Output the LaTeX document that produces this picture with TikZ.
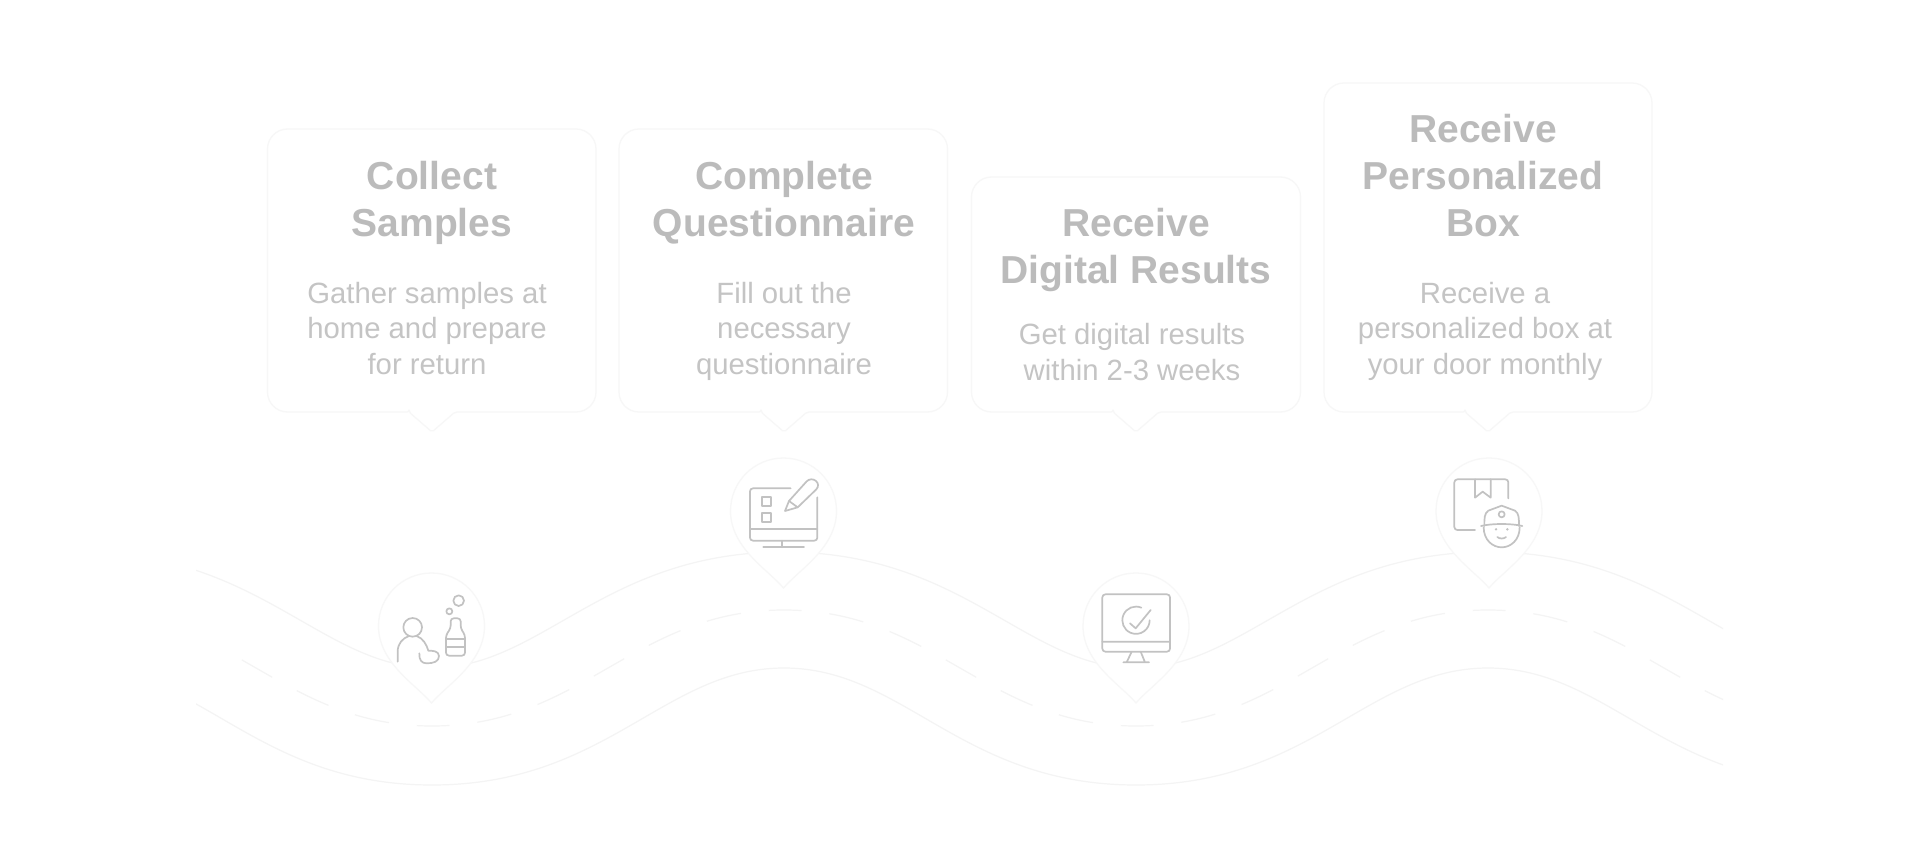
\documentclass[tikz,border=0pt]{standalone}
\usepackage{fontspec}
\setmainfont{Liberation Sans}
\definecolor{titlegray}{HTML}{BBBBBB}
\definecolor{bodygray}{HTML}{C4C4C4}
\definecolor{icongray}{HTML}{C2C2C2}
\definecolor{cardline}{HTML}{F7F7F7}
\definecolor{waveline}{HTML}{F4F4F4}
\tikzset{
  titletext/.style={anchor=base,align=center,text=titlegray,inner sep=0pt,font=\fontsize{39}{47}\selectfont\bfseries},
  bodytext/.style={anchor=base,align=center,text=bodygray,inner sep=0pt,font=\fontsize{29.3}{35.5}\selectfont},
  cardshape/.style={draw=cardline,line width=1.3pt,fill=white,line join=round},
  pinshape/.style={draw=cardline,line width=1.3pt,fill=white},
  waveshape/.style={draw=waveline,line width=1.2pt},
  dashwave/.style={waveshape,dash pattern=on 35pt off 28pt,dash phase=17.5pt},
  iconline/.style={draw=icongray,line width=1.7pt,line cap=round,line join=round},
  zoomat/.style={shift={(#1)},x=0.33333pt,y=-0.33333pt}
}
\newcommand{\carddraw}[4]{% left, right, top, tip x
  \draw[cardshape] (#4-23,412) [rounded corners=20pt] -- (#1,412) -- (#1,#3) -- (#2,#3) -- (#2,412) [rounded corners=2pt] -- (#4+23,412) -- (#4,432) -- (#4-23,412) -- cycle;
}
\newcommand{\pindraw}[2]{% centre x, centre y
  \begin{scope}[shift={(#1,#2)}]
    \draw[pinshape] (0,77) .. controls (-15,59) and (-53,37) .. (-53,0)
      .. controls (-53,-29.3) and (-29.3,-53) .. (0,-53)
      .. controls (29.3,-53) and (53,-29.3) .. (53,0)
      .. controls (53,37) and (15,59) .. (0,77) -- cycle;
  \end{scope}
}
\begin{document}
\begin{tikzpicture}[x=1pt,y=-1pt]
\useasboundingbox (0,0) rectangle (1920,856);
\fill[white] (0,0) rectangle (1920,856);

% waves
\begin{scope}
  \clip (196,500) rectangle (1723,820);
  \draw[waveshape] (80,552) .. controls (260,552) and (322,668) .. (432,668)
    .. controls (542,668) and (604,552) .. (784,552)
    .. controls (964,552) and (1026,668) .. (1136,668)
    .. controls (1246,668) and (1308,552) .. (1488,552)
    .. controls (1668,552) and (1730,668) .. (1840,668);
  \draw[waveshape] (80,668) .. controls (200,668) and (257,785) .. (432,785)
    .. controls (607,785) and (664,668) .. (784,668)
    .. controls (904,668) and (961,785) .. (1136,785)
    .. controls (1311,785) and (1368,668) .. (1488,668)
    .. controls (1608,668) and (1665,785) .. (1840,785);
\end{scope}
\begin{scope}
  \clip (234,500) rectangle (1723,820);
  \draw[dashwave] (80,610) .. controls (230,610) and (282,726) .. (432,726);
  \draw[dashwave] (432,726) .. controls (582,726) and (634,610) .. (784,610);
  \draw[dashwave] (784,610) .. controls (934,610) and (986,726) .. (1136,726);
  \draw[dashwave] (1136,726) .. controls (1286,726) and (1338,610) .. (1488,610);
  \draw[dashwave] (1488,610) .. controls (1638,610) and (1690,726) .. (1840,726);
\end{scope}

% cards
\carddraw{267.5}{596}{129}{432}
\carddraw{619}{947.5}{129}{784}
\carddraw{971.5}{1300.5}{177}{1136}
\carddraw{1324}{1652}{83}{1488}

\node[titletext] (title1) at (432,236) {Collect\\Samples};
\node[bodytext] (body1) at (427,374) {Gather samples at\\home and prepare\\for return};
\node[titletext] (title2) at (784,236) {Complete\\Questionnaire};
\node[bodytext] (body2) at (784,374) {Fill out the\\necessary\\questionnaire};
\node[titletext] (title3) at (1136,283) {Receive\\Digital Results};
\node[bodytext] (body3) at (1132,380) {Get digital results\\within 2-3 weeks};
\node[titletext] (title4) at (1483,236) {Receive\\Personalized\\Box};
\node[bodytext] (body4) at (1485,374) {Receive a\\personalized box at\\your door monthly};

% pins
\pindraw{431.5}{626}
\pindraw{783.5}{511}
\pindraw{1136}{626}
\pindraw{1489}{511}

% icon 1: person and bottle
\begin{scope}[zoomat={360,560}]
  \draw[iconline] (158,202) circle[radius=28];
  \draw[iconline] (113,305) -- (113,275) .. controls (113,250) and (128,235) .. (147,228);
  \draw[iconline] (170,228) .. controls (190,235) and (200,255) .. (205,272)
    .. controls (215,272) and (237,272) .. (237,288)
    .. controls (237,305) and (220,310) .. (200,310)
    .. controls (185,310) and (177,300) .. (178,280);
  \draw[iconline,rounded corners=3pt] (272,175) -- (272,205) -- (258,225) -- (258,287) -- (315,287) -- (315,225) -- (302,205) -- (302,175) -- cycle;
  \draw[iconline] (258,238) -- (315,238) (258,262) -- (315,262);
  \draw[iconline] (268,154) circle[radius=9];
  \draw[iconline] (296,122) circle[radius=16];
\end{scope}

% icon 2: form on a monitor with pencil
\begin{scope}[zoomat={720,450}]
  \draw[iconline,rounded corners=3pt] (212,115) -- (90,115) -- (90,272) -- (292,272) -- (292,142);
  \draw[iconline] (90,238) -- (292,238) (187,272) -- (187,292) (130,292) -- (252,292);
  \draw[iconline] (125,142) rectangle (153,168);
  \draw[iconline] (125,188) rectangle (153,215);
  \draw[iconline] (195,183) -- (207,153) -- (260,94) .. controls (268,86) and (280,86) .. (288,93) .. controls (296,100) and (296,110) .. (289,118) -- (233,172) -- cycle;
  \draw[iconline] (207,153) -- (233,172);
\end{scope}

% icon 3: monitor with check
\begin{scope}[zoomat={1070,565}]
  \draw[iconline,rounded corners=3pt] (97,88) rectangle (300,260);
  \draw[iconline] (97,230) -- (300,230) (185,260) -- (170,292) (212,260) -- (225,292) (160,292) -- (237,292);
  \draw[iconline] (214,128) arc[start angle=-67,end angle=-360,radius=41];
  \draw[iconline] (180,175) -- (197,190) -- (242,135);
\end{scope}

% icon 4: parcel and courier
\begin{scope}[zoomat={1420,450}]
  \draw[iconline,rounded corners=3pt] (165,240) -- (103,240) -- (103,88) -- (265,88) -- (265,145);
  \draw[iconline] (165,88) -- (165,143) -- (188,125) -- (212,143) -- (212,88);
  \draw[iconline,fill=white] (193,228) .. controls (193,205) and (193,190) .. (205,182) -- (245,167) -- (285,182) .. controls (297,190) and (297,205) .. (297,228);
  \draw[iconline] (183,228) .. controls (215,220) and (275,220) .. (307,228);
  \draw[iconline] (191,232) .. controls (191,270) and (218,292) .. (245,292) .. controls (272,292) and (299,270) .. (299,232);
  \draw[iconline] (245,193) circle[radius=9];
  \fill[icongray] (228,238) circle[radius=4] (262,238) circle[radius=4];
  \draw[iconline] (232,261) .. controls (238,267) and (252,267) .. (258,261);
\end{scope}
\end{tikzpicture}
\end{document}
